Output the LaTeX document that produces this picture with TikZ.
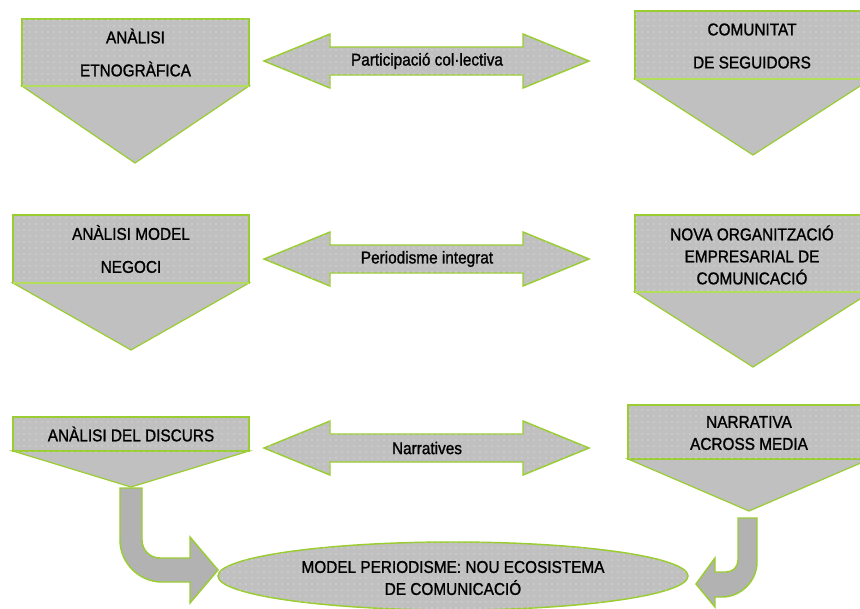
\documentclass[tikz,border=0pt]{standalone}
\usepackage{fontspec}
\setmainfont{Liberation Sans}
\newfontfamily\boxfont{Liberation Sans}[FakeStretch=0.9, FakeBold=1.2]
\usetikzlibrary{patterns.meta}
\definecolor{lime}{RGB}{154,205,50}
\definecolor{limelight}{RGB}{178,222,90}
\definecolor{panelgray}{RGB}{192,192,192}
\definecolor{bendgray}{RGB}{178,178,178}
\tikzset{
  panel/.style={draw=lime, line width=1.1pt, fill=panelgray,
    postaction={pattern={Dots[radius=0.4pt,distance=4.5pt]}, pattern color=white!65!panelgray}},
  funnel/.style={draw=lime, line width=0.9pt, fill=panelgray},
  rim/.style={draw=limelight, line width=2.2pt},
  curvearrow/.style={draw=lime, line width=1.1pt, fill=bendgray},
  loose/.style={font=\boxfont\fontsize{12.8}{24.75}\selectfont, align=center, inner sep=0pt},
  tight/.style={font=\boxfont\fontsize{12.8}{16.5}\selectfont, align=center, inner sep=0pt}
}
\begin{document}
\begin{tikzpicture}[x=0.75pt, y=-0.75pt]
      \useasboundingbox (0, 0) rectangle (860, 608);
      \clip (0, 0) rectangle (860, 608);
      \draw[funnel] (22, 86) -- (249, 86) -- (135, 163) -- cycle
                    (635, 79) -- (871, 79) -- (753, 155) -- cycle
                    (13, 283) -- (249, 283) -- (131, 350) -- cycle
                    (635, 292) -- (871, 292) -- (753, 367) -- cycle
                    (13, 451) -- (249, 451) -- (131, 487) -- cycle
                    (628, 459) -- (870, 459) -- (749, 511) -- cycle;
      \draw[panel] (22, 19) rectangle (249, 86) node (etno) [loose, pos=.5] {ANÀLISI\\ETNOGRÀFICA};
      \draw[panel] (635, 11) rectangle (871, 79);
      \node (seguidors) [loose] at (752, 46) {COMUNITAT\\DE SEGUIDORS};
      \draw[panel] (13, 215) rectangle (249, 283) node (negoci) [loose, pos=.5] {ANÀLISI MODEL\\NEGOCI};
      \draw[panel] (635, 215) rectangle (871, 292);
      \node (organitzacio) [tight] at (752, 255) {NOVA ORGANITZACIÓ\\EMPRESARIAL DE\\COMUNICACIÓ};
      \draw[panel] (13, 417) rectangle (249, 451) node (discurs) [tight, pos=.5] {ANÀLISI DEL DISCURS};
      \draw[panel] (628, 405) rectangle (870, 459);
      \node (narrativa) [tight] at (749, 433) {NARRATIVA\\ACROSS MEDIA};
      \draw[rim] (22, 86) -- (249, 86)
                 (635, 79) -- (860, 79)
                 (13, 283) -- (249, 283)
                 (635, 292) -- (860, 292);
      \foreach \y/\name/\txt in {61/participacio/Participació col·lectiva,
                                 259/periodisme/Periodisme integrat,
                                 448/narratives/Narratives} {
        \draw[panel] (264, \y) -- (330, \y-27) -- (330, \y-14) -- (523, \y-14) -- (523, \y-27)
                     -- (589, \y) -- (523, \y+27) -- (523, \y+14) -- (330, \y+14) -- (330, \y+27) -- cycle;
        \node (\name) [tight] at (427, \y) {\txt};
      }
      \draw[panel] (453, 576) ellipse [x radius=235, y radius=34];
      \node (model) [tight] at (453, 578) {MODEL PERIODISME: NOU ECOSISTEMA\\DE COMUNICACIÓ};
      \draw[curvearrow] (120, 488) -- (120, 540) .. controls (120, 563) and (139, 582) .. (162, 582)
                  -- (190, 582) -- (190, 603) -- (218, 570) -- (190, 537) -- (190, 558)
                  -- (160, 558) .. controls (150, 558) and (142, 550) .. (142, 540)
                  -- (142, 488) -- cycle;
      \draw[curvearrow] (757, 518) -- (757, 562) .. controls (757, 581) and (741, 597) .. (722, 597)
                  -- (715, 597) -- (715, 607) -- (696, 584) -- (715, 558) -- (715, 572)
                  -- (726, 572) .. controls (733, 572) and (738, 567) .. (738, 560)
                  -- (738, 518) -- cycle;
\end{tikzpicture}
\end{document}
